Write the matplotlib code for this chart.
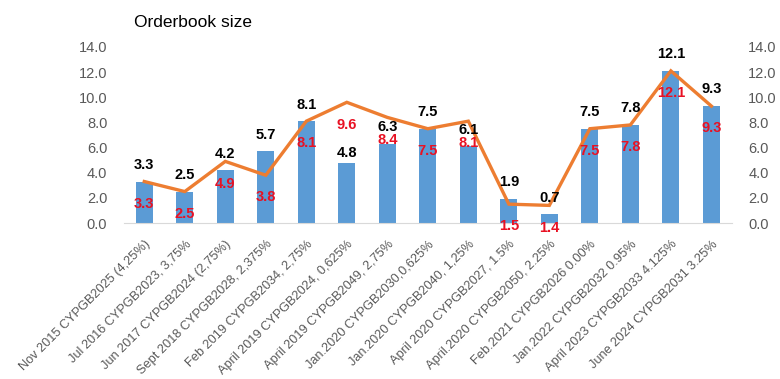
import matplotlib
matplotlib.use("Agg")
import matplotlib.pyplot as plt
import numpy as np

plt.rcParams['font.family'] = ['Liberation Sans', 'DejaVu Sans']

categories = [
    "Nov 2015 CYPGB2025 (4,25%)",
    "Jul 2016 CYPGB2023, 3,75%",
    "Jun 2017 CYPGB2024 (2,75%)",
    "Sept 2018 CYPGB2028, 2,375%",
    "Feb 2019 CYPGB2034, 2,75%",
    "April 2019 CYPGB2024, 0,625%",
    "April 2019 CYPGB2049, 2,75%",
    "Jan.2020 CYPGB2030,0,625%",
    "Jan.2020 CYPGB2040, 1,25%",
    "April 2020 CYPGB2027, 1.5%",
    "April.2020 CYPGB2050, 2.25%",
    "Feb.2021 CYPGB2026 0.00%",
    "Jan.2022 CYPGB2032 0.95%",
    "April 2023 CYPGB2033 4.125%",
    "June 2024 CYPGB2031 3.25%",
]
issue_size = [3.3, 2.5, 4.2, 5.7, 8.1, 4.8, 6.3, 7.5, 6.1, 1.9, 0.7, 7.5, 7.8, 12.1, 9.3]
orderbook = [3.3, 2.5, 4.9, 3.8, 8.1, 9.6, 8.4, 7.5, 8.1, 1.5, 1.4, 7.5, 7.8, 12.1, 9.3]
yticks = [0, 2, 4, 6, 8, 10, 12, 14]

BAR = "#5b9bd5"
LINE = "#ed7d31"
RED = "#e81123"
GREY = "#595959"

fig = plt.figure(figsize=(7.8, 3.79), dpi=100)
ax = fig.add_axes([0.159, 0.4116, 0.779, 0.4644])
x = np.arange(len(categories))

ax.bar(x, issue_size, width=0.42, color=BAR, zorder=2)
ax2 = ax.twinx()
ax2.plot(x, orderbook, color=LINE, lw=2.4, solid_joinstyle='miter', zorder=3)

for a in (ax, ax2):
    a.set_ylim(0, 14)
    a.set_xlim(-0.5, len(categories) - 0.5)
    a.set_yticks(yticks)
    a.set_yticklabels([f"{v:.1f}" for v in yticks])
    a.tick_params(axis='y', length=0, pad=12, labelsize=10.5, labelcolor=GREY)
    for s in a.spines.values():
        s.set_visible(False)
ax.spines['bottom'].set_visible(True)
ax.spines['bottom'].set_color("#d9d9d9")

ax.set_xticks(x)
ax.set_xticklabels(categories, rotation=45, ha='right', va='top',
                   rotation_mode='anchor', fontsize=9.2, color=GREY)
ax.tick_params(axis='x', length=0, pad=11)

# label offsets in points (the 4.8 label sits lower in the original)
bar_off = [12] * len(x)
bar_off[5] = 7
line_off = [-16] * len(x)

for i, v in enumerate(orderbook):
    ax2.annotate(f"{v:.1f}", (i, v), xytext=(0, line_off[i]), textcoords='offset points',
                 ha='center', va='center', fontsize=10.5, fontweight='bold',
                 color=RED, zorder=5, annotation_clip=False)
for i, v in enumerate(issue_size):
    ax2.annotate(f"{v:.1f}", (i, v), xytext=(0, bar_off[i]), textcoords='offset points',
                 ha='center', va='center', fontsize=10.5, fontweight='bold',
                 color='black', zorder=6)

fig.text(0.172, 0.94, "Orderbook size", fontsize=12.5, ha='left', va='center', color='black')

fig.savefig("out.png", dpi=100)
